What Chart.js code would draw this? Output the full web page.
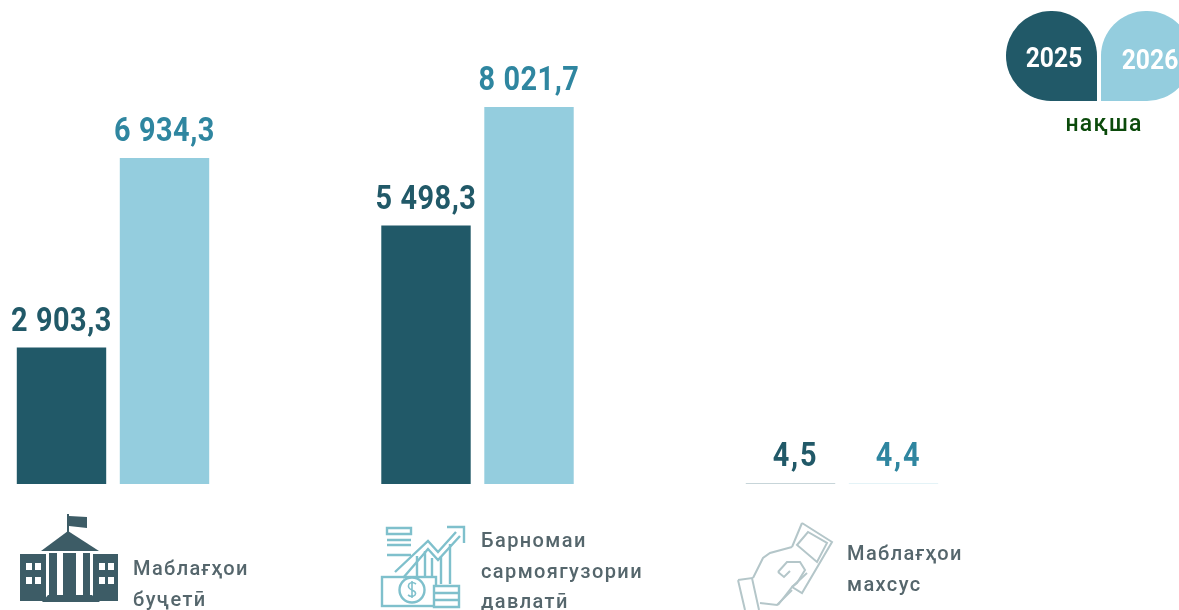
<!DOCTYPE html>
<html>
<head>
<meta charset="utf-8">
<script src="https://cdn.jsdelivr.net/npm/chart.js@4"></script>
<style>
  html, body { margin: 0; padding: 0; background: #fff; overflow: hidden; }
  #wrap { position: relative; width: 1179px; height: 610px; overflow: hidden; }
  #myChart { position: absolute; left: 0; top: 0; }
  .drop { position: absolute; top: 11px; width: 91px; height: 90px; }
  #d25 { left: 1006px; background: #215968; border-radius: 46px 46px 0 46px; }
  #d26 { left: 1101px; background: #94cdde; border-radius: 46px 46px 46px 0; }
  .yr { position: absolute; width: 80px; text-align: center; color: #fff; font: 700 28px Roboto, sans-serif; line-height: 30px; transform: scaleX(.88); }
  #y25 { left: 1014px; top: 43px; }
  #y26 { left: 1110px; top: 45px; }
  #plan { position: absolute; left: 1044px; width: 120px; top: 110px; text-align: center; color: #0b4a0b; font: 500 23px Roboto, sans-serif; letter-spacing: 1.2px; }
  svg.icon { position: absolute; left: 0; top: 0; filter: blur(.6px); }
</style>
</head>
<body>
<div id="wrap">
  <canvas id="myChart" width="1179" height="610"></canvas>
  <svg class="icon" width="1179" height="610" viewBox="0 0 1179 610">
    <!-- budget -->
    <g fill="#3d5c66">
      <rect x="67" y="514" width="2" height="20"/>
      <path d="M69 516 l18 1 v11 l-18 -2z"/>
      <path d="M68 531 L99 551 H41z"/>
      <path d="M20 554 H46 V601 H20z M93 554 H118 V601 H93z"/>
      <path d="M49 553 H57 V597 H49z M63 553 H76 V597 H63z M83 553 H90 V597 H83z"/>
      <path d="M48 595 H92 L100 602 H42z"/>
    </g>
    <g fill="#fff">
      <rect x="26" y="563" width="6" height="7"/><rect x="35" y="563" width="6" height="7"/>
      <rect x="26" y="577" width="6" height="7"/><rect x="35" y="577" width="6" height="7"/>
      <rect x="99" y="563" width="6" height="7"/><rect x="108" y="563" width="6" height="7"/>
      <rect x="99" y="577" width="6" height="7"/><rect x="108" y="577" width="6" height="7"/>
    </g>
    <!-- investment -->
    <g fill="none" stroke="#7fc0cc" stroke-width="2.4">
      <path d="M387 528 H411 V534 H387z M387 540 H411 M387 545 H411 M387 555 H411" />
      <path d="M395 572 L428 541 L438 552 L456 532"/>
      <path d="M403 578 L428 549 L438 560 L460 536"/>
      <path d="M447 527 H464 V543"/>
      <path d="M417 578 V556 M425 578 V551 M432 578 V558 M441 584 V556 M450 584 V544"/>
      <rect x="382" y="577" width="54" height="29"/>
      <circle cx="412" cy="590" r="12.5" fill="#fff"/>
      <path d="M434 586 H459 V593 H434z M434 593 H459 V600 H434z M434 600 H459 V607 H434z" fill="#fff"/>
    </g>
    <path d="M416 584 q-4 -3 -7 0 q-2 4 3 6 q5 2 3 5 q-3 3 -7 0 M412 581 V598" fill="none" stroke="#7fc0cc" stroke-width="1.6"/>
    <!-- special -->
    <g fill="none" stroke="#b4c6c9" stroke-width="2">
      <path d="M738 580 L752 578 L759 610 M745 610 L738 580"/>
      <path d="M753 578 L763 558 L770 553 L792 547"/>
      <path d="M760 603 L777 605 L792 590"/>
      <path d="M802 523 L832 542 L802 593 L792 587 L778 605"/>
      <path d="M802 523 L792 547"/>
      <path d="M797 545 L808 532 L827 543 L817 562 Z"/>
      <path d="M792 587 L807 573"/>
      <path d="M778 572 L787 562 L800 562 L805 570 L797 583 L792 587"/>
      <path d="M778 572 L784 577 L790 571"/>
    </g>
  </svg>
  <div class="drop" id="d25"></div>
  <div class="drop" id="d26"></div>
  <div class="yr" id="y25">2025</div>
  <div class="yr" id="y26">2026</div>
  <div id="plan">нақша</div>
</div>
<script>
const categories = ['Маблағҳои буҷетӣ', 'Барномаи сармоягузории давлатӣ', 'Маблағҳои махсус'];
const categoryLines = [['Маблағҳои', 'буҷетӣ'], ['Барномаи', 'сармоягузории', 'давлатӣ'], ['Маблағҳои', 'махсус']];
const labelSpots = [[133, 568], [481, 540], [847, 553]];
const years = ['2025', '2026'];
const values2025 = [2903.3, 5498.3, 4.5];
const values2026 = [6934.3, 8021.7, 4.4];

function fmt(v){
    let parts = v.toFixed(1).split('.');
    return parts[0].replace(/\B(?=(\d{3})+$)/g, ' ') + ',' + parts[1];
}

const textPlugin = {
    id: 'textPlugin',
    afterDatasetsDraw(chart){
        const ctx = chart.ctx;
        ctx.save();
        ctx.textAlign = 'center';
        ctx.textBaseline = 'alphabetic';
        ctx.font = '700 33px Roboto, sans-serif';
        const colors = ['#215968', '#2f86a0'];
        chart.data.datasets.forEach((ds, i) => {
            chart.getDatasetMeta(i).data.forEach((bar, j) => {
                // the last pair sits a bit to the right of its bars in the source
                const small = j === 2;
                ctx.letterSpacing = small ? '2px' : '0.6px';
                ctx.save();
                ctx.translate(bar.x + (small ? 5 : 0), bar.y - (small ? 18 : 17));
                ctx.scale(0.875, 1);
                ctx.fillStyle = colors[i];
                ctx.fillText(fmt(ds.data[j]), 0, 0);
                ctx.restore();
            });
        });
        ctx.textAlign = 'left';
        ctx.fillStyle = '#55666c';
        ctx.font = '500 20px Roboto, sans-serif';
        ctx.letterSpacing = '1.4px';
        categoryLines.forEach((lines, i) => {
            lines.forEach((line, k) => {
                ctx.fillText(line, labelSpots[i][0], labelSpots[i][1] + 7 + k * 30.5);
            });
        });
        ctx.restore();
    }
};

new Chart(document.getElementById('myChart'), {
    type: 'bar',
    data: {
        labels: categories,
        datasets: [
            { label: years[0], data: values2025, backgroundColor: '#215968', clip: false },
            { label: years[1], data: values2026, backgroundColor: '#94cdde', clip: false }
        ]
    },
    options: {
        responsive: false,
        animation: false,
        categoryPercentage: 0.5652,
        barPercentage: 0.868,
        layout: { padding: { left: 113, right: 337, top: 14, bottom: 126 } },
        scales: {
            x: { display: false, offset: false },
            y: { display: false, min: 0, max: 10000 }
        },
        plugins: { legend: { display: false }, tooltip: { enabled: false } }
    },
    plugins: [textPlugin]
});
</script>
</body>
</html>
